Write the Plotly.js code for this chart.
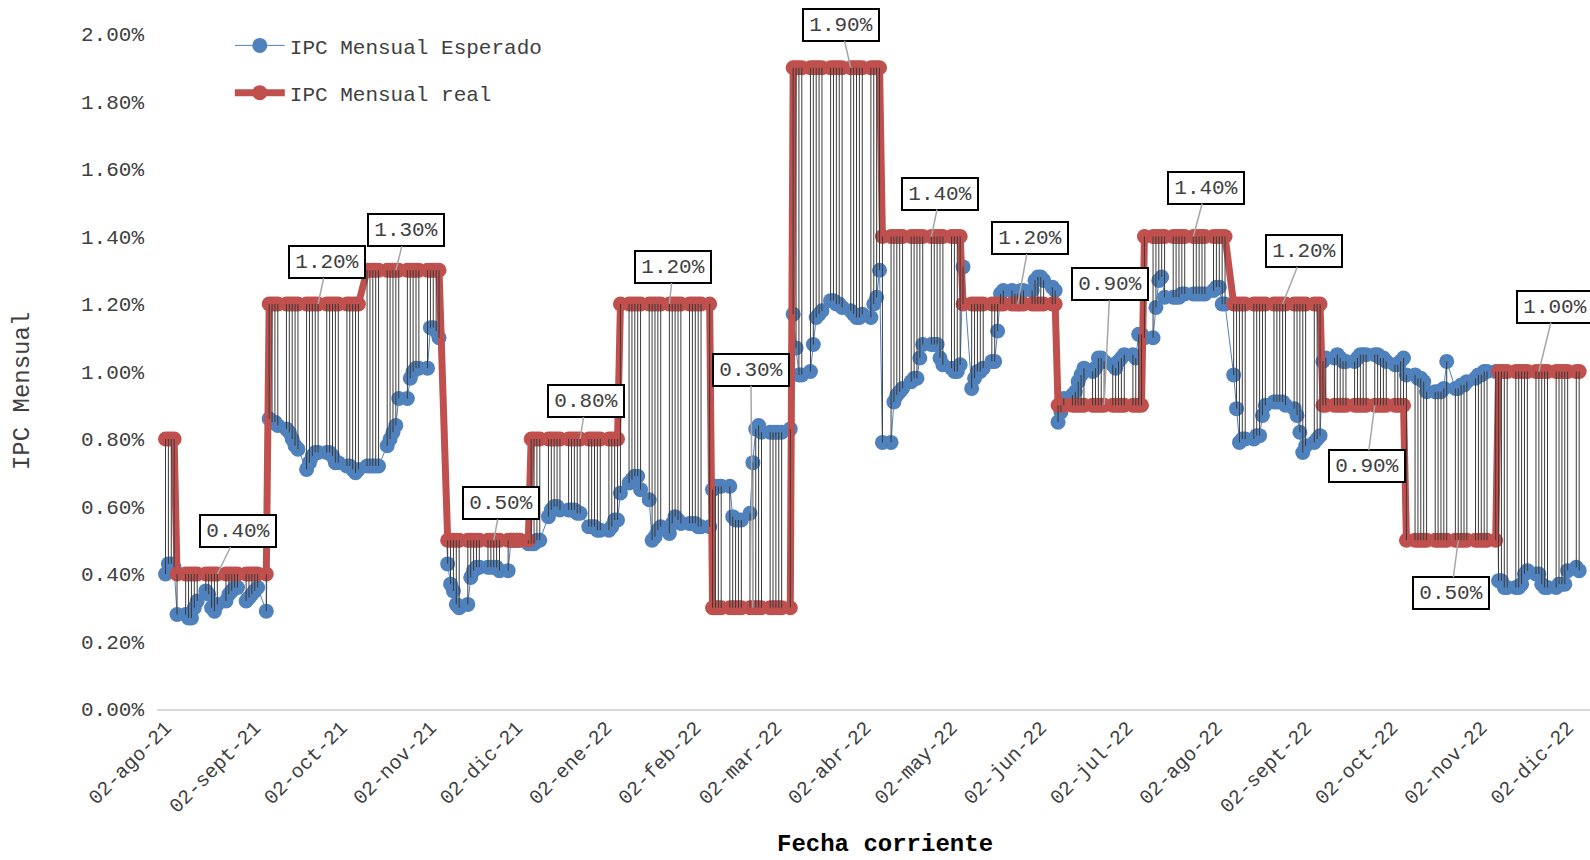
<!DOCTYPE html>
<html><head><meta charset="utf-8">
<script src="https://cdn.plot.ly/plotly-3.0.1.min.js"></script>
<style>html,body{margin:0;padding:0;overflow:hidden;background:#fff}#chart{width:1615px;height:860px}</style>
</head><body><div id="chart"></div>
<script>
// ---------- DATA ----------
const fechaInicio = '2021-08-02';
const fechaFin = '2022-12-06';

// IPC mensual esperado (%), one value per business day (Mon-Fri), week by week
const ipcEsperado = [
  0.40,0.43,0.43,0.42,0.28,  0.28,0.27,0.27,0.30,0.32,  0.35,0.34,0.30,0.29,0.31,  0.32,0.34,0.35,0.36,0.36,
  0.32,0.33,0.34,0.35,0.36,  0.29,0.86,0.85,0.85,0.84,  0.83,0.82,0.80,0.78,0.77,  0.71,0.73,0.75,0.76,0.76,
  0.76,0.76,0.75,0.73,0.73,  0.72,0.72,0.71,0.70,0.71,  0.72,0.72,0.72,0.72,0.72,  0.78,0.80,0.82,0.84,0.92,
  0.92,0.98,1.00,1.01,1.01,  1.01,1.13,1.13,1.12,1.10,  0.43,0.37,0.35,0.31,0.30,  0.31,0.39,0.41,0.42,0.42,
  0.42,0.42,0.42,0.42,0.41,  0.41,0.50,0.50,0.50,0.50,  0.49,0.49,0.49,0.50,0.50,  0.57,0.59,0.60,0.60,0.59,
  0.59,0.59,0.59,0.58,0.58,  0.54,0.54,0.54,0.53,0.53,  0.53,0.54,0.56,0.56,0.64,  0.67,0.68,0.69,0.69,0.65,
  0.62,0.50,0.51,0.53,0.54,  0.52,0.55,0.57,0.56,0.55,  0.55,0.55,0.55,0.54,0.54,  0.54,0.65,0.66,0.66,0.66,
  0.66,0.57,0.56,0.56,0.56,  0.58,0.73,0.83,0.84,0.82,  0.82,0.82,0.82,0.82,0.82,  0.83,1.17,1.07,0.99,0.99,
  1.00,1.08,1.16,1.17,1.18,  1.21,1.21,1.20,1.20,1.19,  1.18,1.17,1.16,1.16,1.17,  1.16,1.20,1.22,1.30,0.79,
  0.79,0.91,0.93,0.94,0.95,  0.97,0.98,0.98,1.04,1.08,  1.08,1.08,1.08,1.04,1.02,  1.01,1.00,1.00,1.02,1.31,
  0.95,0.98,1.00,1.00,1.01,  1.03,1.03,1.12,1.23,1.24,  1.24,1.23,1.23,1.24,1.24,  1.24,1.27,1.28,1.28,1.27,
  1.25,1.24,0.85,0.88,0.92,  0.93,0.94,0.97,0.99,1.01,  1.00,1.01,1.04,1.04,1.03,  1.02,1.01,1.03,1.04,1.05,
  1.05,1.04,1.11,1.11,1.10,  1.10,1.19,1.27,1.28,1.22,  1.22,1.22,1.22,1.23,1.23,  1.23,1.23,1.23,1.23,1.23,
  1.24,1.25,1.25,1.20,1.20,  0.99,0.89,0.79,0.80,0.80,  0.80,0.81,0.81,0.87,0.90,  0.91,0.91,0.91,0.91,0.90,
  0.89,0.87,0.82,0.76,0.78,  0.79,0.80,0.81,1.03,1.04,  1.04,1.05,1.04,1.03,1.03,  1.03,1.04,1.05,1.05,1.05,
  1.05,1.05,1.04,1.04,1.03,  1.02,1.02,1.03,1.04,0.99,  0.99,0.98,0.98,0.97,0.94,  0.94,0.94,0.94,0.95,1.03,
  0.95,0.95,0.96,0.96,0.97,  0.98,0.99,0.99,1.00,1.00,  1.00,0.38,0.38,0.36,0.36,  0.36,0.36,0.37,0.40,0.41,
  0.40,0.40,0.37,0.36,0.36,  0.36,0.37,0.37,0.37,0.41,  0.42,0.41
];

// IPC mensual real (%): value in force from each date
const cambioFechas = ['2021-08-02','2021-08-06','2021-09-07','2021-10-11','2021-11-08','2021-12-07',
  '2022-01-07','2022-02-08','2022-03-08','2022-04-08','2022-05-06','2022-06-08','2022-07-08',
  '2022-08-08','2022-09-08','2022-10-07','2022-11-08'];
const cambioValores = [0.80,0.40,1.20,1.30,0.50,0.80,1.20,0.30,1.90,1.40,1.20,0.90,1.40,1.20,0.90,0.50,1.00];

// Points of the real series that carry a data label
const etiquetaFechas = ['2021-08-20','2021-09-24','2021-10-21','2021-11-24','2021-12-24','2022-01-24',
  '2022-02-22','2022-03-28','2022-04-25','2022-05-25','2022-06-24','2022-07-25','2022-08-25',
  '2022-09-26','2022-10-25','2022-11-22'];

const tickFechas = ['2021-08-02','2021-09-02','2021-10-02','2021-11-02','2021-12-02','2022-01-02',
  '2022-02-02','2022-03-02','2022-04-02','2022-05-02','2022-06-02','2022-07-02','2022-08-02',
  '2022-09-02','2022-10-02','2022-11-02','2022-12-02'];
const tickTextos = ['02-ago-21','02-sept-21','02-oct-21','02-nov-21','02-dic-21','02-ene-22',
  '02-feb-22','02-mar-22','02-abr-22','02-may-22','02-jun-22','02-jul-22','02-ago-22',
  '02-sept-22','02-oct-22','02-nov-22','02-dic-22'];

// ---------- LAYOUT HELPERS (positions / styles) ----------
const etiquetaOffsets = [[21,-43],[9,-42],[10,-40],[7,-37],[6,-38],[4,-37],[-2,-238],[-10,-43],
  [9,-43],[12,-66],[6,-121],[13,-49],[21,-53],[-8,61],[-7,53],[16,-65]];

function diasHabiles(ini, fin){
  const out=[]; let d=new Date(ini+'T00:00:00Z'); const e=new Date(fin+'T00:00:00Z');
  while(d<=e){ const w=d.getUTCDay(); if(w>=1&&w<=5) out.push(d.toISOString().slice(0,10));
    d=new Date(d.getTime()+86400000); }
  return out;
}
const fechas = diasHabiles(fechaInicio, fechaFin);
function realEn(f){ let v=null; for(let i=0;i<cambioFechas.length;i++){ if(cambioFechas[i]<=f) v=cambioValores[i]; } return v; }
const ipcReal = fechas.map(realEn);

const hx=[], hy=[];
fechas.forEach((f,i)=>{ hx.push(f,f,null); hy.push(ipcReal[i], ipcEsperado[i], null); });

const FONT = '"Liberation Mono", "Courier New", monospace';
const TXT = '#404040';

const traces = [
  {x: fechas, y: ipcEsperado, type:'scatter', mode:'lines+markers', name:'IPC Mensual Esperado',
   line:{color:'#4F81BD', width:1}, marker:{color:'#4F81BD', size:15}, legendgroup:'a', hoverinfo:'skip'},
  {x: fechas, y: ipcReal, type:'scatter', mode:'lines+markers', name:'IPC Mensual real',
   line:{color:'#C0504D', width:7}, marker:{color:'#C0504D', size:15}, legendgroup:'b', hoverinfo:'skip'},
  {x: hx, y: hy, type:'scatter', mode:'lines', showlegend:false, hoverinfo:'skip',
   line:{color:'#3a3a3a', width:1}}
];

const annotations = etiquetaFechas.map((f,i)=>{
  const v = realEn(f);
  return {x:f, y:v, xref:'x', yref:'y', text:v.toFixed(2)+'%', showarrow:true, arrowhead:0,
    arrowwidth:1.5, arrowcolor:'#a6a6a6', ax:etiquetaOffsets[i][0], ay:etiquetaOffsets[i][1],
    bgcolor:'#ffffff', bordercolor:'#000000', borderwidth:2, borderpad:3, width:68, height:24,
    font:{family:FONT, size:21, color:TXT}};
});
annotations.push({xref:'paper', yref:'paper', x:-0.0927, y:0.471, xanchor:'center', yanchor:'middle',
  showarrow:false, text:'IPC Mensual', textangle:-90, font:{family:FONT, size:24, color:TXT}});
annotations.push({xref:'paper', yref:'paper', x:0.5, y:-0.201, xanchor:'center', yanchor:'middle',
  showarrow:false, text:'<b>Fecha corriente</b>', font:{family:FONT, size:24, color:'#000'}});

const layout = {
  width:1615, height:860,
  margin:{l:157, r:2, t:34, b:151},
  paper_bgcolor:'#ffffff', plot_bgcolor:'#ffffff',
  font:{family:FONT, size:21, color:TXT},
  showlegend:true,
  legend:{x:0.05, y:1.013, xanchor:'left', yanchor:'top', bgcolor:'rgba(0,0,0,0)',
    font:{family:FONT, size:21, color:TXT}, itemwidth:50, tracegroupgap:17, traceorder:'grouped'},
  xaxis:{type:'date', range:['2021-07-30 01:00','2022-12-17 18:00'], tickmode:'array',
    tickvals:tickFechas, ticktext:tickTextos, tickangle:-45, ticks:'', showgrid:false, zeroline:false,
    showline:true, linecolor:'#d9d9d9', linewidth:2, tickfont:{family:FONT, size:20, color:TXT},
    automargin:false, ticklabelstandoff:-3},
  yaxis:{range:[0,2], dtick:0.2, tickformat:'.2f', ticksuffix:'%', showgrid:false, zeroline:false,
    showline:false, ticks:'', ticklabelstandoff:12, tickfont:{family:FONT, size:21, color:TXT},
    automargin:false},
  annotations: annotations
};

Plotly.newPlot('chart', traces, layout, {staticPlot:true, displayModeBar:false});
</script>
</body></html>
